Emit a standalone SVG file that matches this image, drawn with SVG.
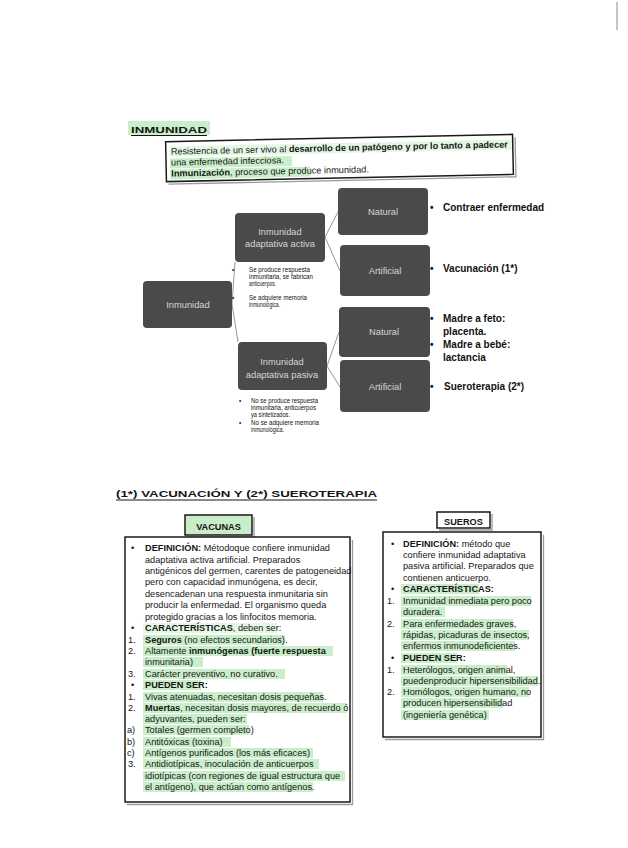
<svg xmlns="http://www.w3.org/2000/svg" width="628" height="848" viewBox="0 0 628 848">
<defs>
<style>
.t{font-family:"Liberation Sans","DejaVu Sans",sans-serif;fill:#151515;font-size:9.2px}
.bd{font-weight:bold}
.node rect{fill:#4a4a4a}
.nt{font-family:"Liberation Sans","DejaVu Sans",sans-serif;font-size:9.3px;fill:#d6d6d6;text-anchor:middle}
.sm{font-family:"Liberation Sans","DejaVu Sans",sans-serif;font-size:6.3px;fill:#111}
.lbl{font-family:"Liberation Sans","DejaVu Sans",sans-serif;font-size:10px;fill:#111;font-weight:bold}
.hl{fill:#a6e3a6;opacity:.6}
.hlf{fill:#a6e3a6;opacity:.3}
.conn{stroke:#8a8a8a;stroke-width:.9;fill:none}
.box{fill:#fff;stroke:#1a1a1a;stroke-width:1.5}
.sh{fill:none;stroke:#9a9a9a;stroke-width:1.3}
</style>
</defs>
<rect width="628" height="848" fill="#fff"/>
<line x1="617" y1="2" x2="617" y2="30" stroke="#8a8a8a" stroke-width="1"/>

<!-- Title INMUNIDAD -->
<g id="title-inmunidad">
<rect class="hl" x="128" y="121" width="82" height="14"/>
<text class="t bd" x="131" y="133" font-size="11.5" textLength="76" lengthAdjust="spacingAndGlyphs">INMUNIDAD</text>
<line x1="131" y1="135.5" x2="207" y2="135.5" stroke="#151515" stroke-width="1"/>
</g>

<!-- Definition box -->
<g id="definicion" transform="rotate(-1.2 340 158)">
<path class="sh" d="M168,180.5 H515.5 V141"/>
<rect class="box" x="166" y="138" width="347" height="40"/>
<rect class="hlf" x="170" y="143" width="342" height="10"/>
<rect class="hl" x="170" y="155" width="122" height="10"/>
<rect class="hl" x="170" y="166" width="140" height="10"/>
<text class="t" x="171" y="151" textLength="337" lengthAdjust="spacingAndGlyphs">Resistencia de un ser vivo al <tspan class="bd">desarrollo de un patógeno y por lo tanto a padecer</tspan></text>
<text class="t" x="171" y="162">una enfermedad infecciosa.</text>
<text class="t" x="171" y="173"><tspan class="bd">Inmunización</tspan>, proceso que produce inmunidad.</text>
</g>

<!-- Connectors -->
<g id="connectors">
<path class="conn" d="M232,304 L235,262 M232,304 L238,342"/>
<path class="conn" d="M325,237 L338,212 M325,237 L340,271"/>
<path class="conn" d="M327,366 L339,332 M327,366 L340,387"/>
</g>

<!-- Nodes -->
<g id="n-inmunidad" class="node">
<rect x="143" y="281" width="89" height="47" rx="4"/>
<text class="nt" x="188" y="308">Inmunidad</text>
</g>
<g id="n-activa" class="node">
<rect x="235" y="213" width="90" height="49" rx="4"/>
<text class="nt" x="280" y="235">Inmunidad</text>
<text class="nt" x="280" y="247">adaptativa activa</text>
</g>
<g id="n-pasiva" class="node">
<rect x="238" y="342" width="89" height="48" rx="4"/>
<text class="nt" x="282" y="365">Inmunidad</text>
<text class="nt" x="282" y="378">adaptativa pasiva</text>
</g>
<g id="n-natural1" class="node">
<rect x="338" y="188" width="90" height="47" rx="4"/>
<text class="nt" x="383" y="215">Natural</text>
</g>
<g id="n-artificial1" class="node">
<rect x="340" y="245" width="90" height="51" rx="4"/>
<text class="nt" x="385" y="274">Artificial</text>
</g>
<g id="n-natural2" class="node">
<rect x="339" y="307" width="91" height="50" rx="4"/>
<text class="nt" x="384" y="335">Natural</text>
</g>
<g id="n-artificial2" class="node">
<rect x="340" y="360" width="90" height="52" rx="4"/>
<text class="nt" x="385" y="390">Artificial</text>
</g>

<!-- Notes under activa / pasiva -->
<g id="notas-activa">
<text class="sm" x="232" y="272">•</text>
<text class="sm" x="249" y="272" textLength="61" lengthAdjust="spacingAndGlyphs">Se produce respuesta</text>
<text class="sm" x="249" y="279" textLength="64" lengthAdjust="spacingAndGlyphs">inmunitaria, se fabrican</text>
<text class="sm" x="249" y="286" textLength="27" lengthAdjust="spacingAndGlyphs">anticuerpos.</text>
<text class="sm" x="232" y="300">•</text>
<text class="sm" x="249" y="300" textLength="58" lengthAdjust="spacingAndGlyphs">Se adquiere memoria</text>
<text class="sm" x="249" y="307" textLength="31" lengthAdjust="spacingAndGlyphs">inmunológica.</text>
</g>
<g id="notas-pasiva">
<text class="sm" x="239" y="403">•</text>
<text class="sm" x="251" y="403" textLength="67" lengthAdjust="spacingAndGlyphs">No se produce respuesta</text>
<text class="sm" x="251" y="410" textLength="65" lengthAdjust="spacingAndGlyphs">inmunitaria,  anticuerpos</text>
<text class="sm" x="251" y="417" textLength="39" lengthAdjust="spacingAndGlyphs">ya sintetizados.</text>
<text class="sm" x="239" y="425">•</text>
<text class="sm" x="251" y="425" textLength="68" lengthAdjust="spacingAndGlyphs">No se adquiere memoria</text>
<text class="sm" x="251" y="432" textLength="33" lengthAdjust="spacingAndGlyphs">inmunológica.</text>
</g>

<!-- Right labels -->
<g id="labels">
<text class="lbl" x="430" y="211">•</text>
<text class="lbl" x="443" y="211">Contraer enfermedad</text>
<text class="lbl" x="430" y="272">•</text>
<text class="lbl" x="443" y="272">Vacunación (1*)</text>
<text class="lbl" x="430" y="322">•</text>
<text class="lbl" x="443" y="322">Madre a feto:</text>
<text class="lbl" x="443" y="335">placenta.</text>
<text class="lbl" x="430" y="348">•</text>
<text class="lbl" x="443" y="348">Madre a bebé:</text>
<text class="lbl" x="443" y="361">lactancia</text>
<text class="lbl" x="430" y="390">•</text>
<text class="lbl" x="444" y="390">Sueroterapia (2*)</text>
</g>

<!-- Section title -->
<g id="title-2">
<text class="t bd" x="116" y="497" font-size="14.5" textLength="261" lengthAdjust="spacingAndGlyphs">(1*) VACUNACIÓN Y (2*) SUEROTERAPIA</text>
<line x1="116" y1="500" x2="377" y2="500" stroke="#151515" stroke-width="1"/>
</g>

<!-- VACUNAS -->
<g id="vacunas-label">
<path class="sh" d="M187,537 H254 V517"/>
<rect x="185" y="515" width="67" height="20" fill="#c9ecc9" stroke="#1a1a1a" stroke-width="1.5"/>
<text class="t bd" x="218.5" y="529.5" font-size="11.5" text-anchor="middle">VACUNAS</text>
</g>
<g id="vacunas">
<path class="sh" d="M127,804.5 H352.5 V540"/>
<rect class="box" x="125" y="537" width="225" height="265"/>
<g>
<rect class="hlf" x="143" y="623" width="134" height="10"/>
<rect class="hl" x="143" y="635" width="142" height="10"/>
<rect class="hl" x="143" y="646" width="190" height="10"/>
<rect class="hl" x="143" y="657" width="60" height="10"/>
<rect class="hl" x="143" y="669" width="142" height="10"/>
<rect class="hl" x="143" y="680" width="58" height="10"/>
<rect class="hl" x="143" y="692" width="180" height="10"/>
<rect class="hl" x="143" y="703" width="204" height="10"/>
<rect class="hl" x="143" y="714" width="104" height="10"/>
<rect class="hl" x="143" y="725" width="106" height="10"/>
<rect class="hl" x="143" y="737" width="88" height="10"/>
<rect class="hl" x="143" y="748" width="170" height="10"/>
<rect class="hl" x="143" y="759" width="176" height="10"/>
<rect class="hl" x="143" y="771" width="202" height="10"/>
<rect class="hl" x="143" y="782" width="170" height="10"/>
</g>
<text class="t" x="131" y="551">•</text>
<text class="t" x="145" y="551"><tspan class="bd">DEFINICIÓN:</tspan> Métodoque confiere inmunidad</text>
<text class="t" x="145" y="563">adaptativa activa artificial. Preparados</text>
<text class="t" x="145" y="574">antigénicos del germen, carentes de patogeneidad</text>
<text class="t" x="145" y="585">pero con capacidad inmunógena, es decir,</text>
<text class="t" x="145" y="597">desencadenan una respuesta inmunitaria sin</text>
<text class="t" x="145" y="608">producir la enfermedad. El organismo queda</text>
<text class="t" x="145" y="620">protegido gracias a los linfocitos memoria.</text>
<text class="t" x="131" y="631">•</text>
<text class="t" x="145" y="631"><tspan class="bd">CARACTERÍSTICAS</tspan>, deben ser:</text>
<text class="t" x="128" y="643">1.</text>
<text class="t" x="145" y="643"><tspan class="bd">Seguros</tspan> (no efectos secundarios).</text>
<text class="t" x="128" y="654">2.</text>
<text class="t" x="145" y="654">Altamente <tspan class="bd">inmunógenas (fuerte respuesta</tspan></text>
<text class="t" x="145" y="665">inmunitaria)</text>
<text class="t" x="128" y="677">3.</text>
<text class="t" x="145" y="677">Carácter preventivo, no curativo.</text>
<text class="t" x="131" y="688">•</text>
<text class="t bd" x="145" y="688">PUEDEN SER:</text>
<text class="t" x="128" y="700">1.</text>
<text class="t" x="145" y="700">Vivas atenuadas, necesitan dosis pequeñas.</text>
<text class="t" x="128" y="711">2.</text>
<text class="t" x="145" y="711"><tspan class="bd">Muertas</tspan>, necesitan dosis mayores, de recuerdo ó</text>
<text class="t" x="145" y="722">adyuvantes, pueden ser:</text>
<text class="t" x="127" y="733">a)</text>
<text class="t" x="145" y="733">Totales (germen completo)</text>
<text class="t" x="127" y="745">b)</text>
<text class="t" x="145" y="745">Antitóxicas (toxina)</text>
<text class="t" x="127" y="756">c)</text>
<text class="t" x="145" y="756">Antígenos purificados (los más eficaces)</text>
<text class="t" x="128" y="767">3.</text>
<text class="t" x="145" y="767">Antidiotípicas, inoculación de anticuerpos</text>
<text class="t" x="145" y="779">idiotípicas (con regiones de igual estructura que</text>
<text class="t" x="145" y="790">el antígeno), que actúan como antígenos.</text>
</g>

<!-- SUEROS -->
<g id="sueros-label">
<path class="sh" d="M439,530 H492 V514"/>
<rect x="437" y="512" width="53" height="16" fill="#fff" stroke="#1a1a1a" stroke-width="1.5"/>
<text class="t bd" x="463.5" y="524.5" font-size="11" text-anchor="middle">SUEROS</text>
</g>
<g id="sueros">
<path class="sh" d="M385,739.5 H543.5 V535"/>
<rect class="box" x="383" y="532" width="158" height="205"/>
<g>
<rect class="hl" x="401" y="584" width="78" height="10"/>
<rect class="hl" x="401" y="596" width="130" height="10"/>
<rect class="hl" x="401" y="607" width="44" height="10"/>
<rect class="hl" x="401" y="619" width="112" height="10"/>
<rect class="hl" x="401" y="630" width="128" height="10"/>
<rect class="hl" x="401" y="641" width="114" height="10"/>
<rect class="hl" x="401" y="653" width="56" height="10"/>
<rect class="hl" x="401" y="665" width="106" height="10"/>
<rect class="hl" x="401" y="676" width="137" height="10"/>
<rect class="hl" x="401" y="687" width="128" height="10"/>
<rect class="hl" x="401" y="698" width="102" height="10"/>
<rect class="hl" x="401" y="710" width="88" height="10"/>
</g>
<text class="t" x="391" y="547">•</text>
<text class="t" x="403" y="547"><tspan class="bd">DEFINICIÓN:</tspan> método que</text>
<text class="t" x="403" y="558">confiere inmunidad adaptativa</text>
<text class="t" x="403" y="569">pasiva artificial. Preparados que</text>
<text class="t" x="403" y="581">contienen anticuerpo.</text>
<text class="t" x="391" y="592">•</text>
<text class="t bd" x="403" y="592">CARACTERÍSTICAS:</text>
<text class="t" x="387" y="604">1.</text>
<text class="t" x="403" y="604">Inmunidad inmediata pero poco</text>
<text class="t" x="403" y="615">duradera.</text>
<text class="t" x="387" y="627">2.</text>
<text class="t" x="403" y="627">Para enfermedades graves,</text>
<text class="t" x="403" y="638">rápidas, picaduras de insectos,</text>
<text class="t" x="403" y="649">enfermos inmunodeficientes.</text>
<text class="t" x="391" y="661">•</text>
<text class="t bd" x="403" y="661">PUEDEN SER:</text>
<text class="t" x="387" y="673">1.</text>
<text class="t" x="403" y="673">Heterólogos, origen animal,</text>
<text class="t" x="403" y="684">puedenproducir hipersensibilidad.</text>
<text class="t" x="387" y="695">2.</text>
<text class="t" x="403" y="695">Homólogos, origen humano, no</text>
<text class="t" x="403" y="706">producen hipersensibilidad</text>
<text class="t" x="403" y="718">(ingeniería genética)</text>
</g>
</svg>
